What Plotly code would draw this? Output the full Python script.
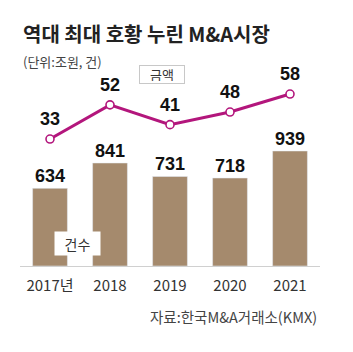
import plotly.graph_objects as go

years = ["2017년", "2018", "2019", "2020", "2021"]
counts = [634, 841, 731, 718, 939]
amounts = [33, 52, 41, 48, 58]

BAR_COLOR = "#a58a6d"
LINE_COLOR = "#b3167c"
KR = "Noto Sans CJK KR"
NUM = "Liberation Sans, Arial"

fig = go.Figure()
fig.add_trace(go.Bar(x=list(range(len(years))), y=counts, marker_color=BAR_COLOR, width=0.58,
                     yaxis="y", hoverinfo="skip"))
fig.add_trace(go.Scatter(x=list(range(len(years))), y=amounts, mode="lines+markers", yaxis="y2",
                         line=dict(color=LINE_COLOR, width=3),
                         marker=dict(size=8, color="white",
                                     line=dict(color=LINE_COLOR, width=1.6)),
                         hoverinfo="skip"))

ann = []
for i, v in enumerate(counts):
    ann.append(dict(x=i, y=v, xref="x", yref="y", text="<b>%d</b>" % v, showarrow=False,
                    yshift=12, font=dict(family=NUM, size=18, color="#111")))
for i, v in enumerate(amounts):
    ann.append(dict(x=i, y=v, xref="x", yref="y2", text="<b>%d</b>" % v, showarrow=False,
                    yshift=20, font=dict(family=NUM, size=18, color="#111")))

W = 300.0
H = 206.0
L = 20.0
T = 60.0
def px(x):
    return (x - L) / W
def py(y):
    return (T + H - y) / H

ann += [
    dict(xref="paper", yref="paper", x=px(21), y=py(33), xanchor="left", yanchor="middle",
         text="<b>역대 최대 호황 누린 M&A시장</b>", showarrow=False,
         font=dict(family=KR, size=20, color="#222")),
    dict(xref="paper", yref="paper", x=px(21), y=py(61), xanchor="left", yanchor="middle",
         text="(단위:조원, 건)", showarrow=False,
         font=dict(family=KR, size=13, color="#444")),
    dict(xref="paper", yref="paper", x=px(161.5), y=py(74), xanchor="center", yanchor="middle",
         text="금액", showarrow=False, bgcolor="white", bordercolor="#c8c8c8", borderwidth=1,
         borderpad=2, width=40, height=13,
         font=dict(family=KR, size=13, color="#333")),
    dict(xref="paper", yref="paper", x=px(77.5), y=py(243.5), xanchor="center", yanchor="middle",
         text="건수", showarrow=False, bgcolor="white", borderpad=3, width=39, height=17,
         font=dict(family=KR, size=14, color="#333")),
    dict(xref="paper", yref="paper", x=px(319), y=py(316), xanchor="right", yanchor="middle",
         text="자료:한국M&A거래소(KMX)", showarrow=False,
         font=dict(family=KR, size=14.5, color="#444")),
]

fig.update_layout(
    width=353, height=352,
    margin=dict(l=L, r=353 - L - W, t=T, b=352 - T - H, pad=0),
    paper_bgcolor="white", plot_bgcolor="white",
    showlegend=False,
    xaxis=dict(range=[-0.5, 4.5], showgrid=False, zeroline=False,
               tickmode="array", tickvals=list(range(len(years))), ticktext=years,
               showline=True, linecolor="#d0d0d0", linewidth=1, ticks="",
               tickfont=dict(family=KR, size=15, color="#333"), ticklabelstandoff=6),
    yaxis=dict(range=[0, 1682], visible=False, showgrid=False),
    yaxis2=dict(range=[-37.5, 76.9], overlaying="y", visible=False, showgrid=False),
    annotations=ann,
)
fig.write_html("out.html")
